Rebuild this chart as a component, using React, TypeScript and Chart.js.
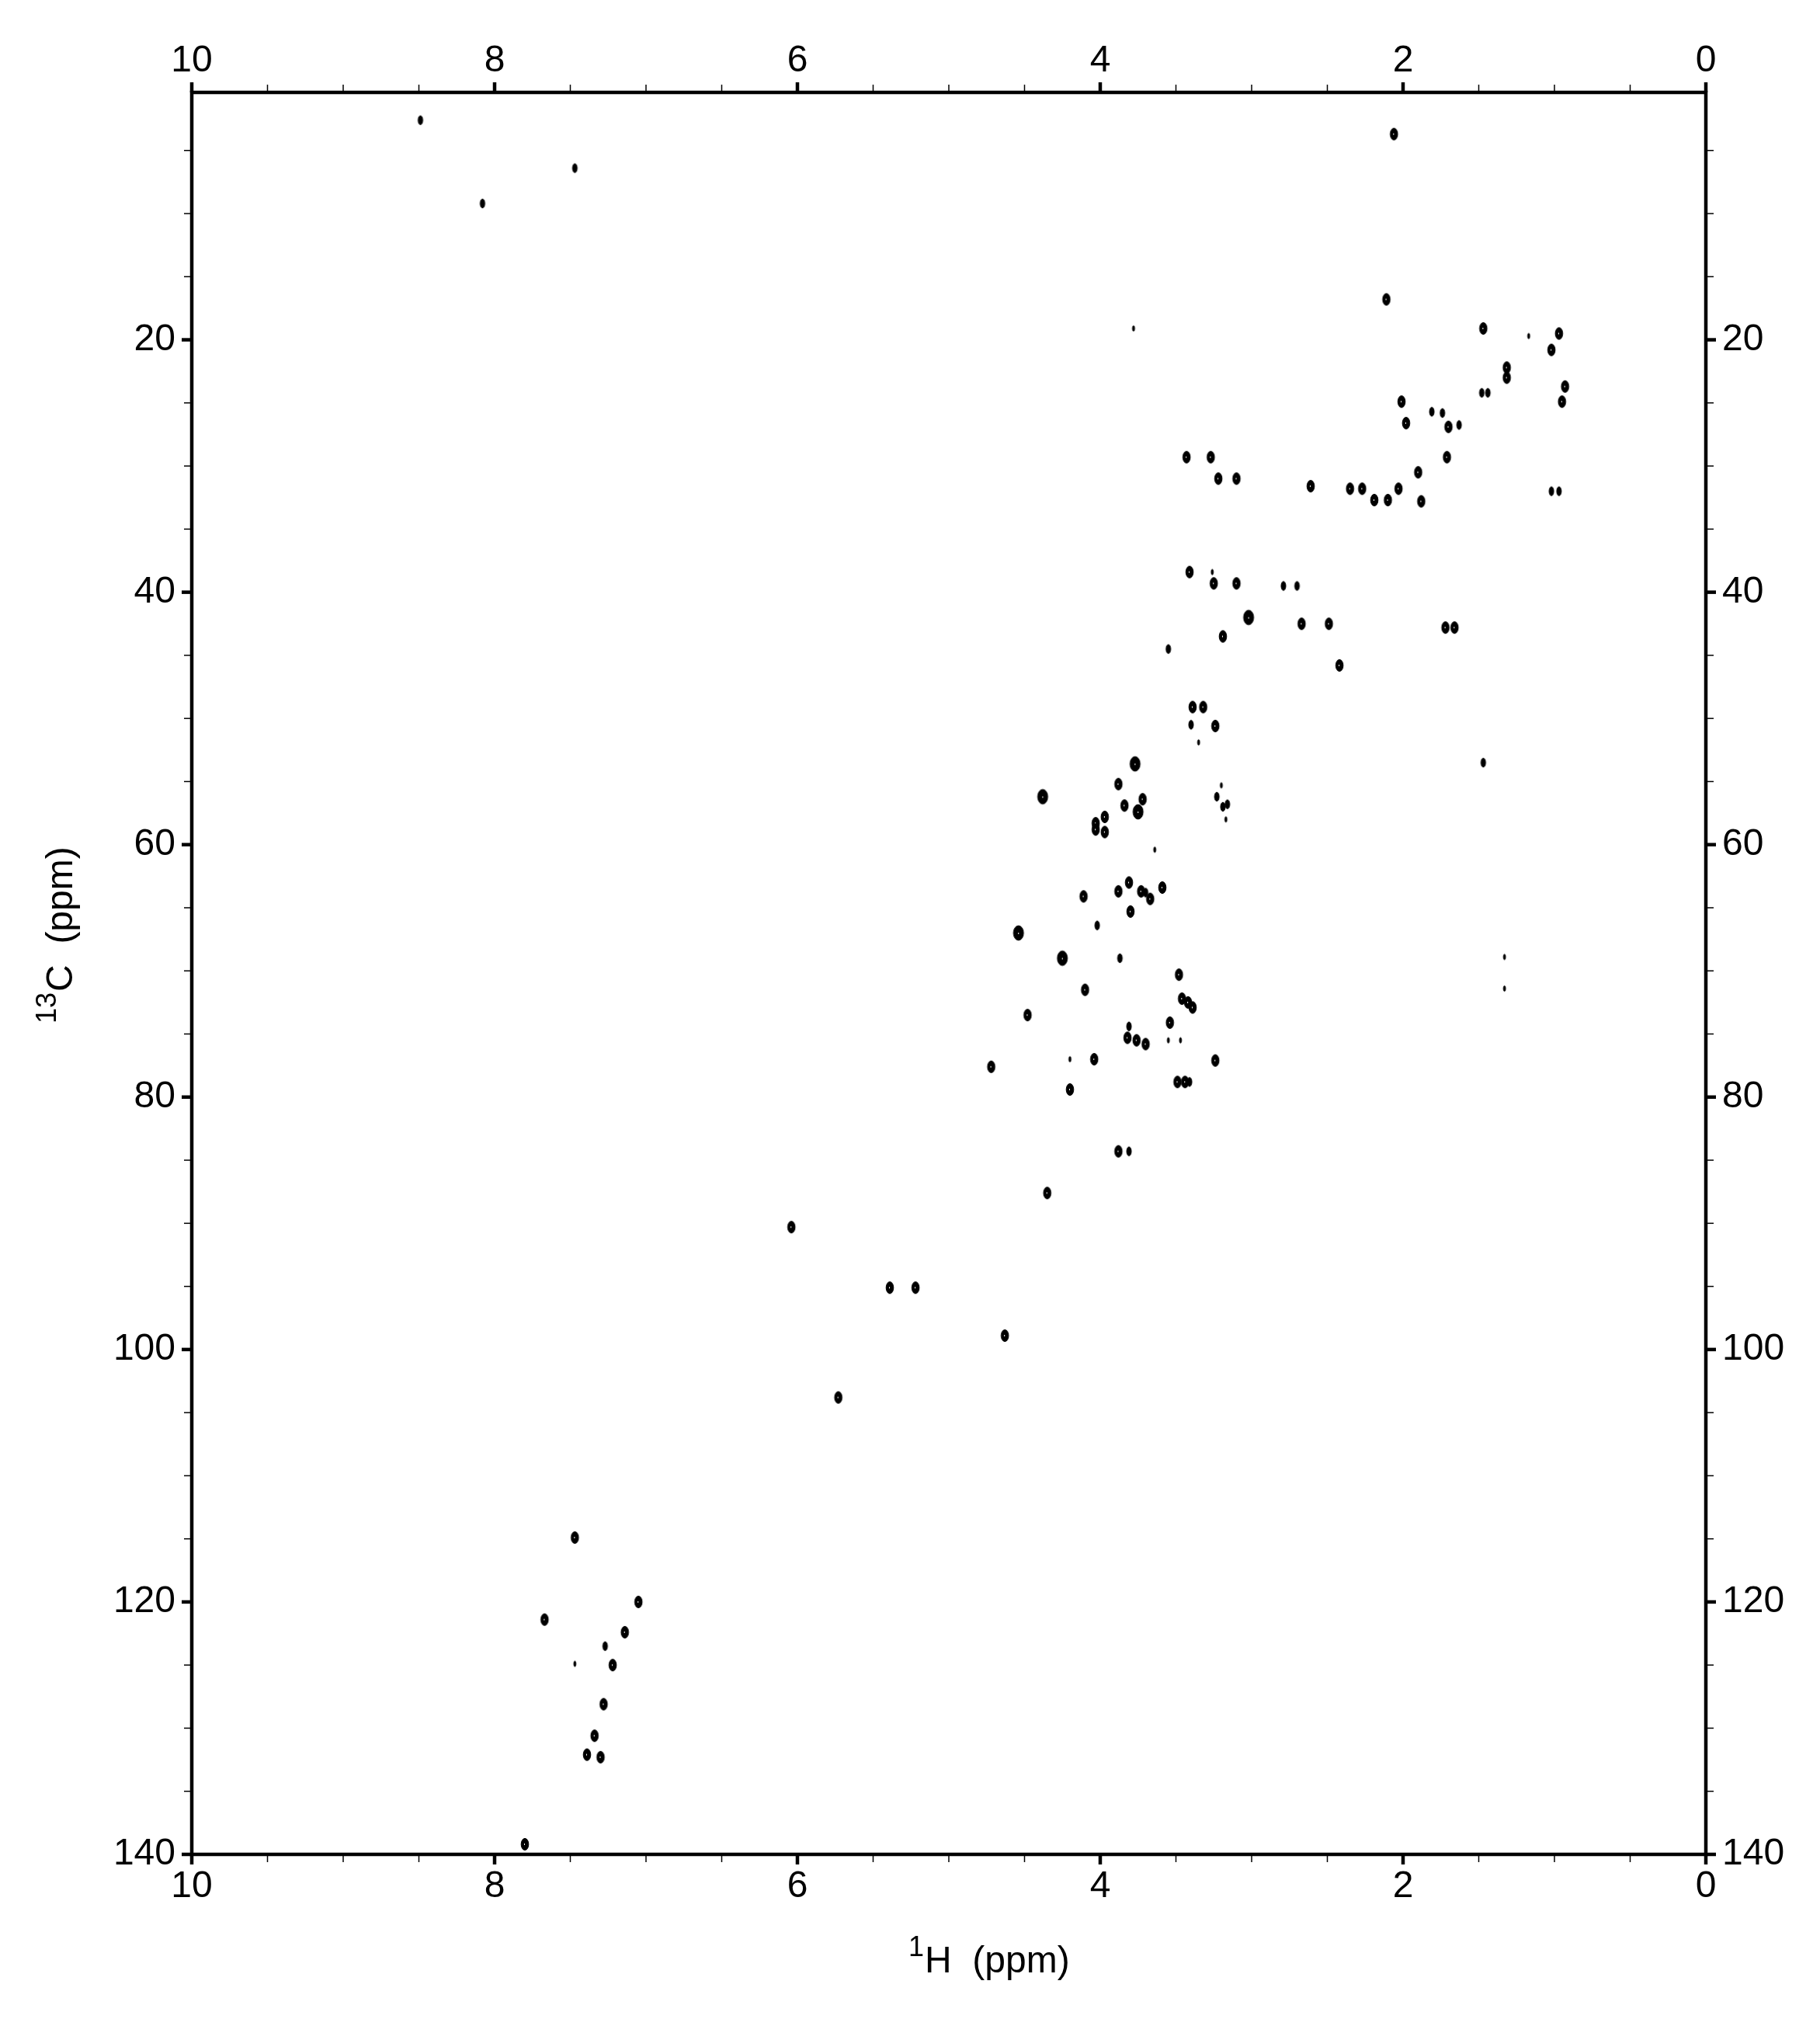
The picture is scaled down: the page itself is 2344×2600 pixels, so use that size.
import React, { useEffect, useRef } from "react";
import { Chart, registerables } from "chart.js";

Chart.register(...registerables);

// ---- data: 1H / 13C chemical shifts of the HSQC cross-peaks (ppm) ----
const H_PPM: number[] = [
  // isolated high-field / top
  8.49, 7.47, 8.08, 2.06, 2.11, 3.78, 1.47, 1.17, 0.97, 1.02,
  1.315, 1.315, 0.93, 0.95, 1.48, 1.44, 2.01, 1.81, 1.74, 1.98,
  1.70, 1.63, 1.71, 1.90, 3.43, 3.27, 3.22, 3.10, 2.61, 2.35,
  2.27, 2.03, 2.19, 2.10, 1.88, 1.02, 0.97,
  // 38-46 ppm
  3.41, 3.26, 3.25, 3.10, 2.79, 2.70, 3.02, 2.67, 2.49, 1.72,
  1.66, 3.19, 3.55, 2.42,
  // 49-60 ppm
  3.39, 3.32, 3.40, 3.24, 3.35, 1.47, 3.77, 3.88, 4.38, 3.72,
  3.84, 3.75, 3.97, 4.03, 4.03, 3.97, 3.23, 3.19, 3.16, 3.17,
  3.20, 3.64,
  // 63-80 ppm
  3.88, 3.81, 3.73, 3.70, 3.67, 3.59, 4.11, 3.80, 4.02, 4.54,
  4.25, 3.87, 3.48, 4.10, 3.46, 3.42, 3.39, 1.33, 1.33, 4.48,
  3.54, 3.81, 3.82, 3.76, 3.70, 3.55, 3.47, 4.72, 4.20, 4.04,
  3.24, 3.49, 3.44, 3.41, 4.20,
  // 84-104 ppm
  3.88, 3.81, 4.35, 6.04, 5.39, 5.22, 4.63, 5.73,
  // aromatic
  7.47, 7.67, 7.05, 7.14, 7.27, 7.47, 7.22, 7.28, 7.34, 7.39,
  7.30, 7.80,
];

const C_PPM: number[] = [
  2.6, 6.4, 9.2, 3.7, 16.8, 19.1, 19.1, 19.7, 19.5, 20.8,
  22.2, 23.0, 23.7, 24.9, 24.2, 24.2, 24.9, 25.7, 25.8, 26.6,
  26.9, 26.75, 29.3, 30.5, 29.3, 29.3, 31.0, 31.0, 31.6, 31.8,
  31.8, 31.8, 32.7, 32.7, 32.8, 32.0, 32.0,
  38.4, 38.4, 39.3, 39.3, 39.5, 39.5, 42.0, 42.5, 42.5, 42.8,
  42.8, 43.5, 44.5, 45.8,
  49.1, 49.1, 50.5, 50.6, 51.9, 53.5, 53.6, 55.2, 56.2, 56.4,
  56.9, 57.4, 57.8, 58.3, 58.8, 59.0, 56.2, 57.0, 56.8, 58.0,
  55.3, 60.4,
  63.7, 63.0, 63.7, 63.8, 64.3, 63.4, 64.1, 65.3, 66.4, 67.0,
  69.0, 69.0, 70.3, 71.5, 72.2, 72.5, 72.9, 68.9, 71.4, 73.5,
  74.1, 74.4, 75.3, 75.5, 75.8, 75.5, 75.5, 77.6, 77.0, 77.0,
  77.1, 78.8, 78.8, 78.8, 79.4,
  84.3, 84.3, 87.6, 90.3, 95.1, 95.1, 98.9, 103.8,
  114.9, 121.4, 120.0, 122.4, 123.5, 124.9, 125.0, 128.1, 130.6, 132.1,
  132.3, 139.2,
];

// contour depth of each cross-peak (0 = weakest)
const LEVEL: number[] = [
  1, 1, 1, 2, 2, 0, 2, 0, 2, 2,
  2, 2, 2, 2, 1, 1, 2, 1, 1, 2,
  2, 1, 2, 2, 2, 2, 2, 2, 2, 2,
  2, 2, 2, 2, 2, 1, 1,
  2, 0, 2, 2, 1, 1, 3, 2, 2, 2,
  2, 2, 1, 2,
  2, 2, 1, 2, 0, 1, 3, 2, 3, 2,
  2, 3, 2, 2, 2, 2, 1, 1, 1, 0,
  0, 0,
  2, 2, 2, 1, 2, 2, 2, 2, 1, 3,
  3, 1, 2, 2, 2, 2, 2, 0, 0, 2,
  2, 1, 2, 2, 2, 0, 0, 2, 0, 2,
  2, 2, 2, 1, 2,
  2, 1, 2, 2, 2, 2, 2, 2,
  2, 2, 2, 2, 1, 0, 2, 2, 2, 2,
  2, 2,
];

const X_TICK_LABELS: number[] = [10, 8, 6, 4, 2, 0];
const Y_TICK_LABELS: number[] = [20, 40, 60, 80, 100, 120, 140];
const X_TITLE_SUP = "1";
const X_TITLE = "H  (ppm)";
const Y_TITLE_SUP = "13";
const Y_TITLE = "C  (ppm)";

const FONT = '"Liberation Sans", Arial, Helvetica, sans-serif';

function makeSprite(level: number): HTMLCanvasElement {
  const specs = [
    [1.4, 3.6],
    [3.0, 5.8],
    [4.8, 7.6],
    [6.5, 9.4],
  ];
  const [rx, ry] = specs[level];
  const w = Math.ceil(rx * 2 + 4);
  const h = Math.ceil(ry * 2 + 4);
  const c = document.createElement("canvas");
  c.width = w;
  c.height = h;
  const g = c.getContext("2d")!;
  const cx = w / 2;
  const cy = h / 2;
  g.fillStyle = "#000";
  g.strokeStyle = "#000";
  g.lineWidth = 1;
  g.beginPath();
  g.ellipse(cx, cy, rx, ry, 0, 0, Math.PI * 2);
  g.fill();
  g.stroke();
  // a small light speck inside the strongest contours
  if (level >= 2) {
    g.fillStyle = "#fff";
    g.fillRect(Math.round(cx - 1), Math.round(cy - 1), 1, 2);
  }
  return c;
}

const near = (a: number, b: number) => Math.abs(a - b) < 1e-6;
const isMult = (v: number, s: number) => near(v / s, Math.round(v / s));

const framePlugin = {
  id: "nmrFrame",
  afterDraw(chart: any) {
    const ctx = chart.ctx as CanvasRenderingContext2D;
    const a = chart.chartArea;
    ctx.save();
    ctx.strokeStyle = "#000";
    ctx.lineCap = "butt";
    // tick marks (outward) on all four sides
    const sides: [string, boolean, number, number][] = [
      ["x", true, 2, 0.5],
      ["x2", true, 2, 0.5],
      ["y", false, 20, 5],
      ["y2", false, 20, 5],
    ];
    for (const [id, horiz, majorStep, minorStep] of sides) {
      const s = chart.scales[id];
      for (const t of s.ticks) {
        const v = t.value;
        if (!isMult(v, minorStep)) continue;
        const major = isMult(v, majorStep);
        const len = major ? 13 : 10;
        ctx.lineWidth = major ? 4.5 : 1.5;
        const p = s.getPixelForValue(v);
        ctx.beginPath();
        if (horiz) {
          const y0 = id === "x" ? a.bottom : a.top;
          const d = id === "x" ? 1 : -1;
          ctx.moveTo(p, y0);
          ctx.lineTo(p, y0 + d * len);
        } else {
          const x0 = id === "y" ? a.left : a.right;
          const d = id === "y" ? -1 : 1;
          ctx.moveTo(x0, p);
          ctx.lineTo(x0 + d * len, p);
        }
        ctx.stroke();
      }
    }
    // frame
    ctx.lineWidth = 4.5;
    ctx.lineJoin = "miter";
    ctx.strokeRect(a.left, a.top, a.right - a.left, a.bottom - a.top);

    // axis titles with superscripts
    ctx.fillStyle = "#000";
    ctx.textBaseline = "alphabetic";
    ctx.textAlign = "left";
    const xBase = a.bottom + 152;
    const xStart = a.left + 923;
    ctx.font = `36px ${FONT}`;
    ctx.fillText(X_TITLE_SUP, xStart, xBase - 21);
    const supW = ctx.measureText(X_TITLE_SUP).width;
    ctx.font = `48px ${FONT}`;
    ctx.fillText(X_TITLE, xStart + supW + 1, xBase);
    ctx.save();
    ctx.translate(93, a.top + 1199);
    ctx.rotate(-Math.PI / 2);
    ctx.font = `36px ${FONT}`;
    ctx.fillText(Y_TITLE_SUP, 0, -21);
    const supW2 = ctx.measureText(Y_TITLE_SUP).width;
    ctx.font = `48px ${FONT}`;
    ctx.fillText(Y_TITLE, supW2 + 1, 0);
    ctx.restore();
    ctx.restore();
  },
};

export default function App() {
  const ref = useRef<HTMLCanvasElement | null>(null);

  useEffect(() => {
    if (!ref.current) return;
    const sprites = [0, 1, 2, 3].map(makeSprite);
    const points = H_PPM.map((h, i) => ({ x: h, y: C_PPM[i] }));

    const tickFont = { family: FONT, size: 48 };
    const xLabel = (v: any) => {
      const n = Number(v);
      return X_TICK_LABELS.some((l) => near(l, n)) ? String(Math.round(n)) : "";
    };
    const yLabel = (v: any) => {
      const n = Number(v);
      return Y_TICK_LABELS.some((l) => near(l, n)) ? String(Math.round(n)) : "";
    };
    const common = {
      type: "linear" as const,
      reverse: true,
      grid: { display: true, drawOnChartArea: false, drawTicks: false },
      border: { display: false },
    };

    const chart = new Chart(ref.current, {
      type: "scatter",
      data: {
        datasets: [
          {
            data: points,
            xAxisID: "x",
            yAxisID: "y",
            pointRadius: 3,
            pointStyle: (ctx: any) => sprites[LEVEL[ctx.dataIndex] ?? 1],
            backgroundColor: "#000",
            borderColor: "#000",
          } as any,
        ],
      },
      options: {
        animation: false,
        responsive: false,
        devicePixelRatio: 1,
        layout: { padding: 0 },
        plugins: {
          legend: { display: false },
          tooltip: { enabled: false },
          title: { display: false },
        },
        scales: {
          x: {
            ...common,
            axis: "x",
            position: "bottom",
            min: 0,
            max: 10,
            ticks: {
              stepSize: 0.5,
              maxTicksLimit: 1000,
              autoSkip: false,
              maxRotation: 0,
              minRotation: 0,
              padding: 13,
              color: "#000",
              font: tickFont,
              callback: xLabel,
            },
            afterFit: (s: any) => {
              s.height = 212;
            },
          },
          x2: {
            ...common,
            axis: "x",
            position: "top",
            min: 0,
            max: 10,
            ticks: {
              stepSize: 0.5,
              maxTicksLimit: 1000,
              autoSkip: false,
              maxRotation: 0,
              minRotation: 0,
              padding: 11,
              color: "#000",
              font: tickFont,
              callback: xLabel,
            },
            afterFit: (s: any) => {
              s.height = 119;
            },
          },
          y: {
            ...common,
            axis: "y",
            position: "left",
            min: 0.4,
            max: 140,
            ticks: {
              stepSize: 5,
              includeBounds: false,
              maxTicksLimit: 1000,
              autoSkip: false,
              padding: 21,
              color: "#000",
              font: tickFont,
              callback: yLabel,
            },
            afterFit: (s: any) => {
              s.width = 247;
            },
          },
          y2: {
            ...common,
            axis: "y",
            position: "right",
            min: 0.4,
            max: 140,
            ticks: {
              stepSize: 5,
              includeBounds: false,
              maxTicksLimit: 1000,
              autoSkip: false,
              padding: 21,
              color: "#000",
              font: tickFont,
              callback: yLabel,
            },
            afterFit: (s: any) => {
              s.width = 147;
            },
          },
        } as any,
      },
      plugins: [framePlugin],
    });
    return () => chart.destroy();
  }, []);

  return (
    <div style={{ position: "absolute", left: 0, top: 0, width: 2344, height: 2600, background: "#fff" }}>
      <canvas ref={ref} width={2344} height={2600} style={{ display: "block", width: 2344, height: 2600 }} />
    </div>
  );
}
